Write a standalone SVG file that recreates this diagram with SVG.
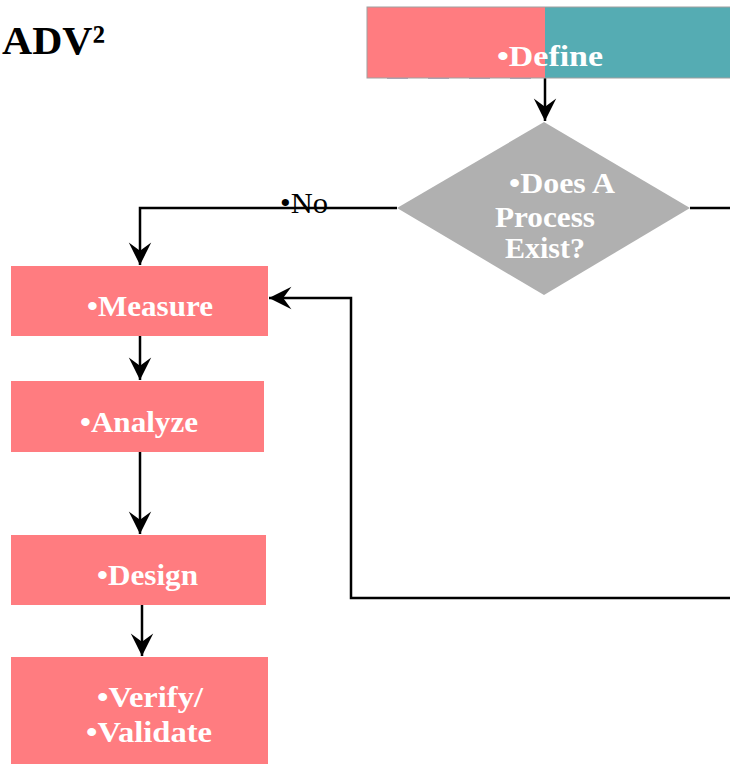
<svg xmlns="http://www.w3.org/2000/svg" width="730" height="765" viewBox="0 0 730 765">
  <style>
    .box { fill: #FF7C80; }
    .lbl { font-family: "Liberation Serif", "Times New Roman", serif; font-weight: bold; fill: #FFFFFF; font-size: 30px; }
    .wire { fill: none; stroke: #000000; stroke-width: 2.5; }
    .arrow { marker-end: url(#head); }
  </style>
  <defs>
    <marker id="head" markerUnits="userSpaceOnUse" markerWidth="26" markerHeight="26" viewBox="-20 -11 22 22" refX="0" refY="0" orient="auto">
      <path d="M0,0 L-19,-9.5 L-12,0 L-19,9.5 z" fill="#000000"/>
    </marker>
  </defs>

  <rect width="730" height="765" fill="#FFFFFF"/>

  <!-- title -->
  <text x="2" y="54" font-family="Liberation Serif, serif" font-weight="bold" font-size="41" fill="#000000" textLength="103" lengthAdjust="spacingAndGlyphs">ADV²</text>

  <!-- connectors -->
  <g id="connectors">
    <line class="wire arrow" x1="545" y1="78" x2="545" y2="121"/>
    <polyline class="wire arrow" points="397,208 140,208 140,265"/>
    <line class="wire" x1="690" y1="208" x2="730" y2="208"/>
    <polyline class="wire arrow" points="730,598 351,598 351,298 269,298"/>
    <line class="wire arrow" x1="140" y1="336" x2="140" y2="380"/>
    <line class="wire arrow" x1="140" y1="452" x2="140" y2="534"/>
    <line class="wire arrow" x1="142" y1="605" x2="142" y2="656"/>
    <text x="280" y="213" font-family="Liberation Serif, serif" font-size="30" fill="#000000" textLength="48" lengthAdjust="spacingAndGlyphs">•No</text>
  </g>

  <!-- Define (split colour block) -->
  <g id="define">
    <rect x="367" y="7" width="178" height="71" fill="#FF7C80"/>
    <rect x="545" y="7" width="185" height="71" fill="#55ACB3"/>
    <rect x="367" y="7" width="370" height="71" fill="none" stroke="#A0A0A0" stroke-width="1"/>
    <line x1="387" y1="78.5" x2="545" y2="78.5" stroke="#7A7090" stroke-width="1.2" stroke-dasharray="21 20" opacity="0.45"/>
    <text class="lbl" x="497" y="66" font-size="33" textLength="106" lengthAdjust="spacingAndGlyphs">•Define</text>
  </g>

  <!-- Decision -->
  <g id="process-exists">
    <polygon points="544,122 690,208 544,295 397,208" fill="#B0B0B0"/>
    <text class="lbl" x="509" y="193" font-size="27" textLength="106" lengthAdjust="spacingAndGlyphs">•Does A</text>
    <text class="lbl" x="495" y="227" font-size="27" textLength="100" lengthAdjust="spacingAndGlyphs">Process</text>
    <text class="lbl" x="505" y="258" font-size="27" textLength="80" lengthAdjust="spacingAndGlyphs">Exist?</text>
  </g>

  <g id="measure">
    <rect class="box" x="11" y="266" width="257" height="70"/>
    <text class="lbl" x="87" y="316" textLength="126" lengthAdjust="spacingAndGlyphs">•Measure</text>
  </g>

  <g id="analyze">
    <rect class="box" x="11" y="381" width="253" height="71"/>
    <text class="lbl" x="80" y="432" textLength="118" lengthAdjust="spacingAndGlyphs">•Analyze</text>
  </g>

  <g id="design">
    <rect class="box" x="11" y="535" width="255" height="70"/>
    <text class="lbl" x="97" y="585" textLength="101" lengthAdjust="spacingAndGlyphs">•Design</text>
  </g>

  <g id="verify-validate">
    <rect class="box" x="11" y="657" width="257" height="107"/>
    <text class="lbl" x="97" y="707" textLength="106" lengthAdjust="spacingAndGlyphs">•Verify/</text>
    <text class="lbl" x="86" y="742" textLength="126" lengthAdjust="spacingAndGlyphs">•Validate</text>
  </g>
</svg>
